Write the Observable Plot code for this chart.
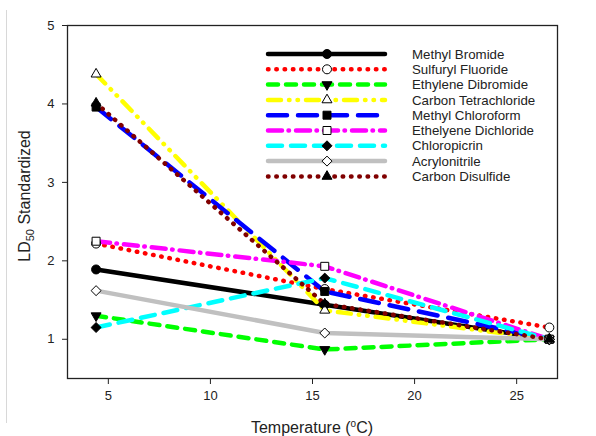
<!DOCTYPE html>
<html><head><meta charset="utf-8">
<script src="https://cdn.jsdelivr.net/npm/d3@7"></script>
<script src="https://cdn.jsdelivr.net/npm/@observablehq/plot@0.6"></script>
<style>
body{margin:0;background:#fff;}
#wrap{position:relative;width:596px;height:436px;overflow:hidden;background:#fff;}
#edge{position:absolute;left:6px;top:10px;width:1px;height:413px;background:#d8d8d8;}
svg{display:block;}
</style></head><body>
<div id="wrap"><div id="edge"></div></div>
<script>
// ---- data ----
const temperatures = [4.4, 15.6, 26.6];
const seriesNames = ["Methyl Bromide", "Sulfuryl Fluoride", "Ethylene Dibromide", "Carbon Tetrachloride",
  "Methyl Chloroform", "Ethelyene Dichloride", "Chloropicrin", "Acrylonitrile", "Carbon Disulfide"];
const methylBromide       = [1.89, 1.44, 1.00];
const sulfurylFluoride    = [2.22, 1.64, 1.15];
const ethyleneDibromide   = [1.30, 0.87, 1.00];
const carbonTetrachloride = [4.38, 1.37, 1.00];
const methylChloroform    = [3.96, 1.61, 1.00];
const ethyleneDichloride  = [2.25, 1.93, 1.00];
const chloropicrin        = [1.15, 1.78, 1.00];
const acrylonitrile       = [1.62, 1.08, 1.00];
const carbonDisulfide     = [4.01, 1.45, 1.00];
const xTicks = [5, 10, 15, 20, 25];
const yTicks = [1, 2, 3, 4, 5];
const xTitle = "Temperature (";
const yTitle = "LD";

const seriesValues = [methylBromide, sulfurylFluoride, ethyleneDibromide, carbonTetrachloride,
  methylChloroform, ethyleneDichloride, chloropicrin, acrylonitrile, carbonDisulfide];

// ---- styles ----
const triangleDown = {
  draw(context, size) {
    const y = -Math.sqrt(size / (Math.sqrt(3) * 3));
    context.moveTo(0, -y * 2);
    context.lineTo(-Math.sqrt(3) * y, y);
    context.lineTo(Math.sqrt(3) * y, y);
    context.closePath();
  }
};
const styles = [
  {stroke: "#000000", dash: null, symbol: d3.symbolCircle, fill: "#000", r: 4.5},
  {stroke: "#ff0000", dash: "0.5 7.8", symbol: d3.symbolCircle, fill: "#fff", r: 4.5},
  {stroke: "#00ff00", dash: "10 8", symbol: triangleDown, fill: "#000", r: 3.7},
  {stroke: "#ffff00", dash: "13 8 0.5 8 0.5 8", symbol: d3.symbolTriangle, fill: "#fff", r: 3.7},
  {stroke: "#0000ff", dash: "19 11", symbol: d3.symbolSquare, fill: "#000", r: 4.5},
  {stroke: "#ff00ff", dash: "14 6.5 0.5 7", symbol: d3.symbolSquare, fill: "#fff", r: 4.5},
  {stroke: "#00ffff", dash: "14 9", symbol: d3.symbolDiamond2, fill: "#000", r: 4.5},
  {stroke: "#c0c0c0", dash: null, symbol: d3.symbolDiamond2, fill: "#fff", r: 4.5},
  {stroke: "#800000", dash: "0.5 7.8", symbol: d3.symbolTriangle, fill: "#000", r: 3.7}
];

const rows = [];
seriesNames.forEach((name, i) => {
  temperatures.forEach((t, j) => rows.push({series: name, idx: i, x: t, y: seriesValues[i][j]}));
});

const lineMarks = seriesNames.map((name, i) => Plot.line(rows.filter(d => d.idx === i), {
  x: "x", y: "y", stroke: styles[i].stroke, strokeWidth: 4.5,
  strokeDasharray: styles[i].dash || undefined, strokeLinecap: "round", strokeLinejoin: "round"
}));
const dotMarks = seriesNames.map((name, i) => Plot.dot(rows.filter(d => d.idx === i), {
  x: "x", y: "y", symbol: styles[i].symbol, r: styles[i].r, fill: styles[i].fill,
  stroke: "#000", strokeWidth: 1
}));

const chart = Plot.plot({
  width: 596, height: 436,
  marginLeft: 67, marginRight: 39, marginTop: 25, marginBottom: 58,
  style: {fontFamily: "'Liberation Sans', Arial, sans-serif", fontSize: "13px", color: "#222", background: "#fff"},
  x: {domain: [3, 27]},
  y: {domain: [0.5, 5]},
  marks: [
    ...lineMarks,
    ...dotMarks,
    Plot.frame({stroke: "#222", strokeWidth: 1.3}),
    Plot.axisX({ticks: xTicks, tickSize: 6, tickPadding: 6, label: null, fontSize: 13, tickFormat: d => String(d)}),
    Plot.axisY({ticks: yTicks, tickSize: 5, tickPadding: 8, label: null, fontSize: 13, tickFormat: d => String(d)})
  ]
});
document.getElementById("wrap").appendChild(chart);

const svg = d3.select(chart);
const ff = "'Liberation Sans', Arial, sans-serif";
// x title
const xt = svg.append("text").attr("x", 312).attr("y", 433).attr("text-anchor", "middle")
  .attr("font-family", ff).attr("font-size", 16).attr("fill", "#222");
xt.append("tspan").text(xTitle);
xt.append("tspan").attr("font-size", 10).attr("dy", -6).text("o");
xt.append("tspan").attr("dy", 6).text("C)");
// y title
const yt = svg.append("text").attr("transform", "translate(30,196) rotate(-90)").attr("text-anchor", "middle")
  .attr("font-family", ff).attr("font-size", 16).attr("fill", "#222");
yt.append("tspan").text(yTitle);
yt.append("tspan").attr("font-size", 11).attr("dy", 4).text("50");
yt.append("tspan").attr("dy", -4).text(" Standardized");

// legend
const lg = svg.append("g").attr("text-anchor", "start");
seriesNames.forEach((name, i) => {
  const y = 54 + i * 15.3;
  const s = styles[i];
  lg.append("line").attr("x1", 268).attr("x2", 385).attr("y1", y).attr("y2", y)
    .attr("stroke", s.stroke).attr("stroke-width", 4.5).attr("stroke-linecap", "round")
    .attr("stroke-dasharray", s.dash);
  lg.append("path").attr("transform", `translate(327,${y})`)
    .attr("d", d3.symbol(s.symbol, s.r * s.r * Math.PI)())
    .attr("fill", s.fill).attr("stroke", "#000").attr("stroke-width", 1);
  lg.append("text").attr("x", 412).attr("y", y).attr("dy", "0.35em").attr("text-anchor", "start")
    .attr("font-family", ff).attr("font-size", 13.3).attr("fill", "#222").text(name);
});
</script>
</body></html>
